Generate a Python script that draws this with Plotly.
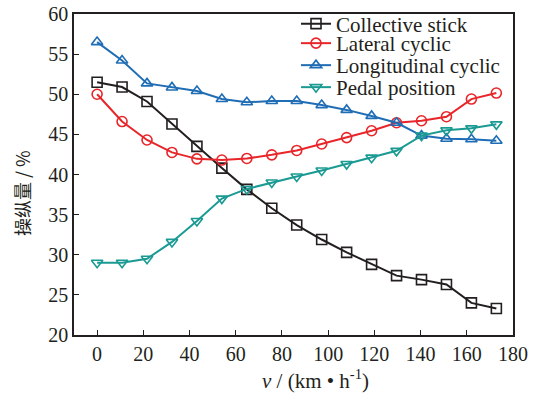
import plotly.graph_objects as go

speed = [0, 10.8, 21.6, 32.4, 43.2, 54.0, 64.8, 75.6, 86.4, 97.2, 108.0, 118.8, 129.6, 140.4, 151.2, 162.0, 172.8]
collective = [51.5, 50.9, 49.1, 46.3, 43.5, 40.8, 38.15, 35.8, 33.7, 31.9, 30.3, 28.8, 27.4, 26.9, 26.3, 24.0, 23.3]
lateral = [50.0, 46.6, 44.3, 42.75, 41.95, 41.8, 42.0, 42.45, 43.0, 43.8, 44.6, 45.45, 46.45, 46.7, 47.2, 49.4, 50.15]
longitudinal = [56.5, 54.2, 51.35, 50.85, 50.4, 49.4, 49.0, 49.15, 49.15, 48.65, 48.05, 47.3, 46.45, 44.85, 44.45, 44.4, 44.2]
pedal = [29.0, 29.0, 29.5, 31.6, 34.2, 37.0, 38.2, 39.0, 39.75, 40.5, 41.3, 42.1, 42.95, 44.85, 45.5, 45.75, 46.25]

names = ["Collective stick", "Lateral cyclic", "Longitudinal cyclic", "Pedal position"]
colors = ["#231f20", "#e8262a", "#1f6db5", "#1a9a93"]
symbols = ["square-open", "circle-open", "triangle-up-open", "triangle-down-open"]
series = [collective, lateral, longitudinal, pedal]
legend_ids = ["legend", "legend2", "legend3", "legend4"]

serif = "Liberation Serif, Times New Roman, serif"

# plot area in pixels (for positioning legends/titles)
W, H = 541, 396
ML, MR, MT, MB = 74, 28, 14, 61
PW, PH = W - ML - MR, H - MT - MB

fig = go.Figure()
for name, col, sym, vals, lid in zip(names, colors, symbols, series, legend_ids):
    fig.add_trace(go.Scatter(
        x=speed, y=vals, name=name, mode="lines+markers",
        line=dict(color=col, width=2),
        marker=dict(symbol=sym, size=10, color=col, line=dict(width=1.6, color=col)),
        legend=lid,
    ))

legend_centers_px = [24, 43.5, 65.5, 87.5]
leg_x = (296 - ML) / PW
legends = {}
for lid, cy in zip(legend_ids, legend_centers_px):
    legends[lid] = dict(
        x=leg_x, y=(MT + PH - cy) / PH, xanchor="left", yanchor="middle",
        bgcolor="rgba(0,0,0,0)", borderwidth=0,
        font=dict(size=21, family=serif, color="#231f20"),
    )

fig.update_layout(
    width=W, height=H,
    margin=dict(l=ML, r=MR, t=MT, b=MB, autoexpand=False),
    paper_bgcolor="white", plot_bgcolor="white",
    font=dict(family=serif, size=20, color="#231f20"),
    showlegend=True,
    **legends,
    xaxis=dict(range=[-10, 180], tickvals=list(range(0, 181, 20)),
               ticks="inside", ticklen=5, tickwidth=1.2, tickcolor="#231f20",
               showline=True, linecolor="#231f20", linewidth=1.5, mirror=True,
               showgrid=False, zeroline=False, tickfont=dict(size=20)),
    yaxis=dict(range=[20, 60], tickvals=list(range(20, 61, 5)),
               ticks="inside", ticklen=5, tickwidth=1.2, tickcolor="#231f20",
               showline=True, linecolor="#231f20", linewidth=1.5, mirror=True,
               showgrid=False, zeroline=False, tickfont=dict(size=20)),
    annotations=[
        dict(text="操纵量 / %", xref="paper", yref="paper",
             x=(22 - ML) / PW, y=(MT + PH - 193) / PH,
             textangle=-90, showarrow=False, xanchor="center", yanchor="middle",
             font=dict(size=18, family="Noto Sans CJK SC, sans-serif", color="#231f20")),
        dict(text="<i>v</i> / (km • h<sup>-1</sup>)", xref="paper", yref="paper",
             x=(315 - ML) / PW, y=(MT + PH - 380) / PH,
             showarrow=False, xanchor="center", yanchor="middle",
             font=dict(size=21, family=serif, color="#231f20")),
    ],
)

fig.write_html("out.html")
